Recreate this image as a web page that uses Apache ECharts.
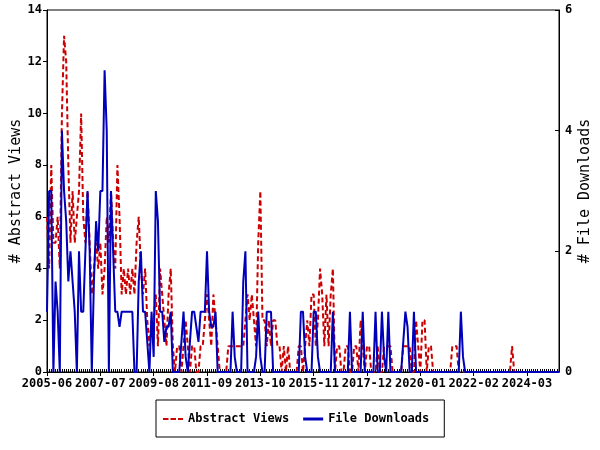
<!DOCTYPE html>
<html>
<head>
<meta charset="utf-8">
<script src="https://cdn.jsdelivr.net/npm/echarts@6/dist/echarts.min.js"></script>
<style>
  html, body { margin: 0; padding: 0; background: #fff; }
  #chart { width: 600px; height: 450px; }
</style>
</head>
<body>
<div id="chart"></div>
<script>
// first month on the axis, one point per month up to 2025-06
const startYear = 2005;
const startMonth = 6;

// monthly abstract views (left axis)
const abstractViews = [
  6, 4, 8, 5, 5, 6, 4, 10, 13, 12,
  8, 5, 7, 5, 6, 7, 10, 6, 5, 7,
  5, 3, 4, 5, 4, 5, 3, 4, 6, 5,
  7, 5, 4, 8, 6, 3, 4, 3, 4, 3,
  4, 3, 5, 6, 4, 3, 4, 2, 1, 2,
  2, 3, 1, 4, 3, 2, 1, 3, 4, 1,
  0, 1, 1, 0, 1, 2, 1, 0, 1, 1,
  0, 0, 1, 1, 2, 3, 2, 1, 3, 2,
  1, 0, 0, 0, 0, 1, 1, 1, 1, 1,
  1, 1, 1, 2, 3, 2, 3, 2, 1, 5,
  7, 2, 2, 1, 2, 1, 2, 2, 1, 1,
  0, 1, 0, 1, 0, 0, 0, 0, 1, 1,
  0, 1, 2, 1, 3, 3, 1, 2, 4, 3,
  1, 3, 1, 3, 4, 0, 1, 1, 0, 0,
  1, 1, 0, 0, 1, 1, 0, 2, 1, 0,
  1, 1, 0, 0, 0, 1, 0, 0, 1, 1,
  1, 1, 0, 0, 0, 0, 0, 1, 1, 1,
  1, 0, 0, 2, 1, 0, 2, 2, 0, 1,
  1, 0, 0, 0, 0, 0, 0, 0, 0, 0,
  1, 1, 1, 0, 0, 0, 0, 0, 0, 0,
  0, 0, 0, 0, 0, 0, 0, 0, 0, 0,
  0, 0, 0, 0, 0, 0, 0, 0, 1, 0,
  0, 0, 0, 0, 0, 0, 0, 0, 0, 0,
  0, 0, 0, 0, 0, 0, 0, 0, 0, 0, 0
];

// monthly file downloads (right axis)
const fileDownloads = [
  1, 3, 3, 0, 1.5, 1, 0, 4, 3, 2.5,
  1.5, 2, 1.5, 1, 0, 2, 1, 1, 2, 3,
  2, 0, 1.5, 2.5, 2, 3, 3, 5, 4, 0,
  3, 2, 1, 1, 0.75, 1, 1, 1, 1, 1,
  1, 0, 0, 1.5, 2, 1, 1, 0.5, 0, 1,
  0.25, 3, 2.5, 1, 1, 0.5, 0.75, 0.75, 1, 0,
  0, 0, 0, 0.5, 1, 0.25, 0, 0.5, 1, 1,
  0.75, 0.5, 1, 1, 1, 2, 1, 0.75, 0.75, 1,
  0, 0, 0, 0, 0, 0, 0, 1, 0.25, 0,
  0, 0, 1.5, 2, 0, 0, 0, 0, 0.25, 1,
  0.25, 0, 0, 1, 1, 1, 0, 0, 0, 0,
  0, 0, 0, 0, 0, 0, 0, 0, 0, 1,
  1, 0.25, 0, 0, 0, 1, 1, 0.25, 0, 0,
  0, 0, 0, 0, 1, 0, 0, 0, 0, 0,
  0, 0, 1, 0, 0, 0, 0, 0, 1, 0,
  0, 0, 0, 0, 1, 0, 0, 1, 0.25, 0,
  1, 0, 0, 0, 0, 0, 0, 0.5, 1, 0.75,
  0, 0, 1, 0, 0, 0, 0, 0, 0, 0,
  0, 0, 0, 0, 0, 0, 0, 0, 0, 0,
  0, 0, 0, 0, 1, 0.25, 0, 0, 0, 0,
  0, 0, 0, 0, 0, 0, 0, 0, 0, 0,
  0, 0, 0, 0, 0, 0, 0, 0, 0, 0,
  0, 0, 0, 0, 0, 0, 0, 0, 0, 0,
  0, 0, 0, 0, 0, 0, 0, 0, 0, 0, 0
];

const months = [];
for (let i = 0; i < abstractViews.length; i++) {
  const m = startMonth - 1 + i;
  const y = startYear + Math.floor(m / 12);
  const mm = (m % 12) + 1;
  months.push(y + "-" + (mm < 10 ? "0" + mm : mm));
}

const font = {
  fontFamily: "DejaVu Sans Mono",
  fontWeight: "bold",
  fontSize: 12,
  color: "#000",
};
const nameFont = {
  fontFamily: "DejaVu Sans Mono",
  fontSize: 15,
  color: "#000",
};

const RED = "#cc0000";
const BLUE = "#0000bb";

const chart = echarts.init(document.getElementById("chart"), null, { renderer: "canvas" });

const options = {
  animation: false,
  grid: {
    left: 47,
    right: 41,
    top: 10,
    bottom: 78,
    outerBoundsMode: "none",
    containLabel: false,
    show: true,
    borderColor: "#000",
    borderWidth: 1,
    backgroundColor: "transparent",
  },
  legend: {
    bottom: 13,
    left: 156,
    borderColor: "#000",
    borderWidth: 1,
    padding: [13, 15, 12, 7],
    itemWidth: 20,
    itemHeight: 3,
    itemGap: 14,
    textStyle: font,
    data: [
      { name: "Abstract Views", icon: "path://M0,0h5.5v2h-5.5z M7.5,0h5.5v2h-5.5z M15,0h5v2h-5z" },
      { name: "File Downloads", icon: "rect" },
    ],
  },
  xAxis: [
    {
      type: "category",
      data: months,
      boundaryGap: false,
      axisLine: { lineStyle: { color: "#000", width: 1 } },
      axisTick: { interval: 0, inside: true, length: 3, lineStyle: { color: "#000" } },
      axisLabel: { ...font, interval: 24, margin: 6 },
      splitLine: { show: false },
    },
    {
      // longer ticks under the labelled months
      type: "category",
      data: months,
      boundaryGap: false,
      position: "bottom",
      axisLine: { show: false },
      axisTick: { interval: 24, length: 4, lineStyle: { color: "#000" } },
      axisLabel: { show: false },
      splitLine: { show: false },
    },
  ],
  yAxis: [
    {
      type: "value",
      min: 0,
      max: 14,
      interval: 2,
      name: "# Abstract Views",
      nameLocation: "middle",
      nameRotate: 90,
      nameGap: 23,
      nameMoveOverlap: false,
      nameTextStyle: nameFont,
      axisLine: { show: true, lineStyle: { color: "#000" } },
      axisTick: { show: true, length: 4, lineStyle: { color: "#000" } },
      axisLabel: { ...font, margin: 5 },
      splitLine: { show: false },
    },
    {
      type: "value",
      min: 0,
      max: 6,
      interval: 2,
      position: "right",
      name: "# File Downloads",
      nameLocation: "middle",
      nameRotate: 90,
      nameGap: 19,
      nameMoveOverlap: false,
      nameTextStyle: nameFont,
      axisLine: { show: true, lineStyle: { color: "#000" } },
      axisTick: { show: true, inside: true, length: 4, lineStyle: { color: "#000" } },
      axisLabel: { ...font, margin: 6 },
      splitLine: { show: false },
    },
  ],
  series: [
    {
      name: "Abstract Views",
      type: "line",
      yAxisIndex: 0,
      data: abstractViews,
      symbol: "none",
      color: RED,
      lineStyle: { color: RED, width: 2, type: [5, 3] },
    },
    {
      name: "File Downloads",
      type: "line",
      yAxisIndex: 1,
      data: fileDownloads,
      symbol: "none",
      color: BLUE,
      lineStyle: { color: BLUE, width: 2 },
    },
  ],
};

chart.setOption(options);
</script>
</body>
</html>
